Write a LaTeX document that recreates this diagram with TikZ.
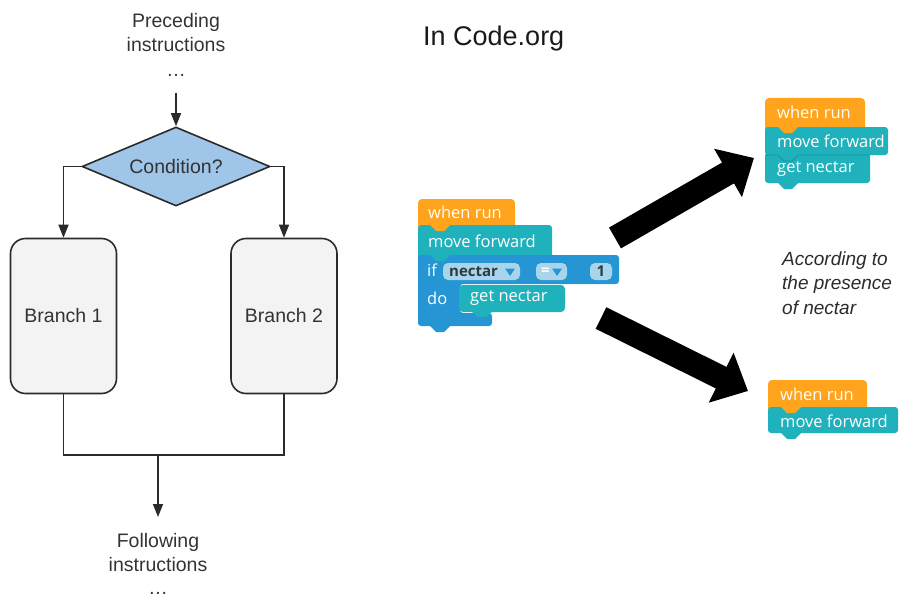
\documentclass[tikz,border=0pt]{standalone}
\usepackage{fontspec}
\setmainfont{Liberation Sans}
\newfontfamily\blockfont{Open Sans}
\usetikzlibrary{shapes.geometric,arrows.meta}

\definecolor{inkgray}{HTML}{2B2B2B}
\definecolor{textgray}{HTML}{333333}
\definecolor{condblue}{HTML}{9FC5E8}
\definecolor{branchfill}{HTML}{F3F3F3}
\definecolor{runorange}{HTML}{FFA41C}
\definecolor{blockteal}{HTML}{1FB2BC}
\definecolor{tealdark}{HTML}{17939B}
\definecolor{ifblue}{HTML}{2595D3}
\definecolor{pillblue}{HTML}{A9D5EC}
\definecolor{pilltext}{HTML}{2E3A40}

\tikzset{
  flowtext/.style={font=\fontsize{19.5}{23}\selectfont, text=textgray, inner sep=0pt},
  condbox/.style={shape=diamond, draw=inkgray, line width=1.6pt, fill=condblue,
    aspect=2.38, minimum width=188pt, minimum height=79pt, inner sep=0pt,
    font=\fontsize{19.5}{23}\selectfont, text=textgray},
  branchbox/.style={rectangle, rounded corners=15pt, draw=inkgray, line width=1.6pt,
    fill=branchfill, minimum width=106pt, minimum height=155pt, inner sep=0pt,
    font=\fontsize{19.5}{23}\selectfont, text=textgray},
  flowline/.style={draw=inkgray, line width=1.6pt},
  flowarrow/.style={flowline, -{Triangle[length=13pt,width=10pt]}},
  bigarrow/.style={draw=black, line width=24pt, -{Triangle[length=30pt,width=54pt]}},
  blocktext/.style={font=\blockfont\fontsize{16.5}{16.5}\selectfont, text=white,
    anchor=west, inner sep=0pt},
  pilltxt/.style={font=\blockfont\bfseries\fontsize{15}{15}\selectfont, text=pilltext,
    inner sep=0pt},
  notetext/.style={font=\itshape\fontsize{19}{24.5}\selectfont, text=inkgray,
    align=left, anchor=west, inner sep=0pt},
}

\begin{document}
\begin{tikzpicture}[x=1pt,y=-1pt]
\useasboundingbox (0,0) rectangle (901,599);

% ---------------- generic if/else flowchart ----------------
\node[flowtext, anchor=base] (pre1) at (176,28) {Preceding};
\node[flowtext, anchor=base] (pre2) at (176,52) {instructions};
\node[flowtext, anchor=base] (pre3) at (176,77) {…};

\node[condbox] (cond) at (176,166.5) {Condition?};
\node[branchbox] (b1) at (63.5,316) {Branch 1};
\node[branchbox] (b2) at (284,316) {Branch 2};

\coordinate (p0) at (176,93);
\draw[flowarrow] (p0) -- (cond.north);
\draw[flowarrow] (cond.west) -| (b1.north);
\draw[flowarrow] (cond.east) -| (b2.north);

\coordinate (mj) at (158,455);
\coordinate (fo) at (158,517);
\draw[flowline] (b1.south) |- (mj);
\draw[flowline] (b2.south) |- (mj);
\draw[flowarrow] (mj) -- (fo);

\node[flowtext, anchor=base] (fol1) at (158,547) {Following};
\node[flowtext, anchor=base] (fol2) at (158,571) {instructions};
\node[flowtext, anchor=base] (fol3) at (158,594) {…};

% ---------------- Code.org side ----------------
\node[font=\fontsize{27}{30}\selectfont, text=black!90, anchor=base west, inner sep=0pt]
  (title) at (423,46) {In Code.org};

% program with the if block
\fill[runorange, rounded corners=4pt] (418,199) rectangle (515,232);
\fill[blockteal, rounded corners=3pt] (418,225) rectangle (552,260);
\fill[runorange] (430,225) -- (450,225) -- (444,231) -- (436,231) -- cycle;
\fill[ifblue, rounded corners=3pt] (418,255) -- (619,255) -- (619,284) -- (460,284)
  -- (460,313) -- (492,313) -- (492,326) -- (418,326) -- cycle;
\fill[blockteal] (430,255) -- (450,255) -- (444,261) -- (436,261) -- cycle;
\fill[ifblue] (430,326) -- (450,326) -- (444,332) -- (436,332) -- cycle;
\fill[blockteal, rounded corners=4pt] (459,285) rectangle (565,312);
\fill[blockteal] (472,312) -- (492,312) -- (486,317) -- (478,317) -- cycle;

\fill[pillblue, rounded corners=5pt] (443,263) rectangle (520,280);
\fill[pillblue, rounded corners=5pt] (536,263) rectangle (567,280);
\fill[pillblue, rounded corners=5pt] (590,263) rectangle (612,280);
\fill[ifblue] (505,268.5) -- (515,268.5) -- (510,276) -- cycle;
\fill[ifblue] (552,268.5) -- (562,268.5) -- (557,276) -- cycle;

\node[blocktext] (r1run) at (428,212) {when run};
\node[blocktext] (r1move) at (428,241) {move forward};
\node[blocktext] (r1if) at (427,270) {if};
\node[blocktext] (r1do) at (427,298) {do};
\node[blocktext] (r1get) at (470,298.5) {get nectar};
\node[pilltxt, anchor=west] (r1var) at (449,271.5) {nectar};
\node[pilltxt, text=white, anchor=west] (r1eq) at (541,271.5) {=};
\node[pilltxt] (r1val) at (601,271.5) {1};

% program when nectar is present
\fill[runorange, rounded corners=4pt] (765,98) rectangle (865,132);
\fill[blockteal, rounded corners=3pt] (765,127) rectangle (888,155);
\fill[runorange] (778,127) -- (798,127) -- (792,133) -- (784,133) -- cycle;
\fill[blockteal, rounded corners=3pt] (765,153) rectangle (870,183);
\draw[tealdark, line width=0.8pt] (765,155) -- (778,155) -- (784,161) -- (792,161)
  -- (798,155) -- (870,155);
\fill[blockteal] (778,183) -- (798,183) -- (792,189) -- (784,189) -- cycle;
\node[blocktext] (r2run) at (777,112) {when run};
\node[blocktext] (r2move) at (777,141) {move forward};
\node[blocktext] (r2get) at (777,169) {get nectar};

% program without nectar
\fill[runorange, rounded corners=4pt] (768,380) rectangle (867,412);
\fill[blockteal, rounded corners=3pt] (768,407) rectangle (898,433);
\fill[runorange] (781,407) -- (801,407) -- (795,413) -- (787,413) -- cycle;
\fill[blockteal] (781,433) -- (801,433) -- (795,439) -- (787,439) -- cycle;
\node[blocktext] (r3run) at (780,394) {when run};
\node[blocktext] (r3move) at (780,421) {move forward};

% the two outcomes
\coordinate (u0) at (615,238);
\coordinate (u1) at (754,158);
\coordinate (l0) at (601,318);
\coordinate (l1) at (748,391);
\draw[bigarrow] (u0) -- (u1);
\draw[bigarrow] (l0) -- (l1);

\node[notetext] (note) at (782,283) {According to\\the presence\\of nectar};
\end{tikzpicture}
\end{document}
